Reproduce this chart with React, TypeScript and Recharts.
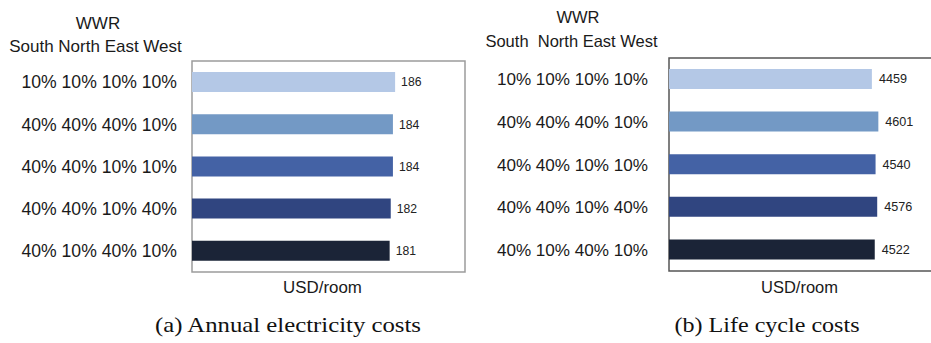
import { Bar, BarChart, Cell, LabelList, ReferenceArea, XAxis, YAxis } from "recharts"

const configs = ["10% 10% 10% 10%", "40% 40% 40% 10%", "40% 40% 10% 10%", "40% 40% 10% 40%", "40% 10% 40% 10%"]
const electricity = [186, 184, 184, 182, 181]
const lifeCycle = [4459, 4601, 4540, 4576, 4522]
const barColors = ["#b4c8e6", "#7399c5", "#4462a5", "#304580", "#1b2437"]

const sans = "'Liberation Sans', Arial, Helvetica, sans-serif"
const serif = "'Liberation Serif', 'Times New Roman', serif"

const elecData = configs.map((name, i) => ({ name, value: electricity[i] }))
const lccData = configs.map((name, i) => ({ name, value: lifeCycle[i] }))

type PanelProps = {
  data: { name: string; value: number }[]
  max: number
  axisWidth: number
  tickGap: number
  tickSize: number
  top: number
  bottom: number
  right: number
  frame: string
  labelOffset: number
  labelSize: number
}

function Panel({ data, max, axisWidth, tickGap, tickSize, top, bottom, right, frame, labelOffset, labelSize }: PanelProps) {
  return (
    <BarChart
      width={480}
      height={300}
      data={data}
      layout="vertical"
      margin={{ top, bottom, left: 0, right }}
      barSize={20}
    >
      <XAxis type="number" domain={[0, max]} hide />
      <YAxis
        type="category"
        dataKey="name"
        width={axisWidth}
        tickLine={false}
        axisLine={false}
        tickSize={0}
        tickMargin={tickGap}
        tick={{ fontSize: tickSize, fill: "#1a1a1a", fontFamily: sans }}
        interval={0}
      />
      <ReferenceArea x1={0} x2={max} fill="none" stroke={frame} strokeWidth={1.5} />
      <Bar dataKey="value" isAnimationActive={false}>
        {data.map((_, i) => (
          <Cell key={i} fill={barColors[i]} />
        ))}
        <LabelList dataKey="value" position="right" offset={labelOffset} fontSize={labelSize} fill="#222" fontFamily={sans} />
      </Bar>
    </BarChart>
  )
}

export default function App() {
  return (
    <div
      style={{
        position: "fixed",
        left: 0,
        top: 0,
        width: 931,
        height: 343,
        overflow: "hidden",
        background: "#fff",
      }}
    >
      <div style={{ position: "absolute", left: 0, top: 0 }}>
        <Panel
          data={elecData}
          max={250}
          axisWidth={192}
          tickGap={15}
          tickSize={17.6}
          top={61}
          bottom={28}
          right={15}
          frame="#9c9c9c"
          labelOffset={6}
          labelSize={12.2}
        />
      </div>
      <div style={{ position: "absolute", left: 470, top: 0 }}>
        <Panel
          data={lccData}
          max={6000}
          axisWidth={199}
          tickGap={21}
          tickSize={17.1}
          top={58}
          bottom={29}
          right={8}
          frame="#555"
          labelOffset={7}
          labelSize={12.6}
        />
      </div>
      <svg width={931} height={343} style={{ position: "absolute", left: 0, top: 0, pointerEvents: "none" }}>
        <g fontFamily={sans} fill="#1a1a1a" textAnchor="middle">
          <text x={98} y={29} fontSize={17}>WWR</text>
          <text x={95.5} y={52} fontSize={17}>South North East West</text>
          <text x={578} y={23} fontSize={16.5}>WWR</text>
          <text x={571.5} y={47} fontSize={16.5} style={{ whiteSpace: "pre" }}>South  North East West</text>
          <text x={322.5} y={293} fontSize={16.9}>USD/room</text>
          <text x={799.5} y={293} fontSize={16.5}>USD/room</text>
        </g>
        <g fontFamily={serif} fill="#111" textAnchor="middle">
          <text x={288} y={332} fontSize={21} textLength={266} lengthAdjust="spacingAndGlyphs">(a) Annual electricity costs</text>
          <text x={767} y={332} fontSize={21} textLength={185} lengthAdjust="spacingAndGlyphs">(b) Life cycle costs</text>
        </g>
      </svg>
    </div>
  )
}
